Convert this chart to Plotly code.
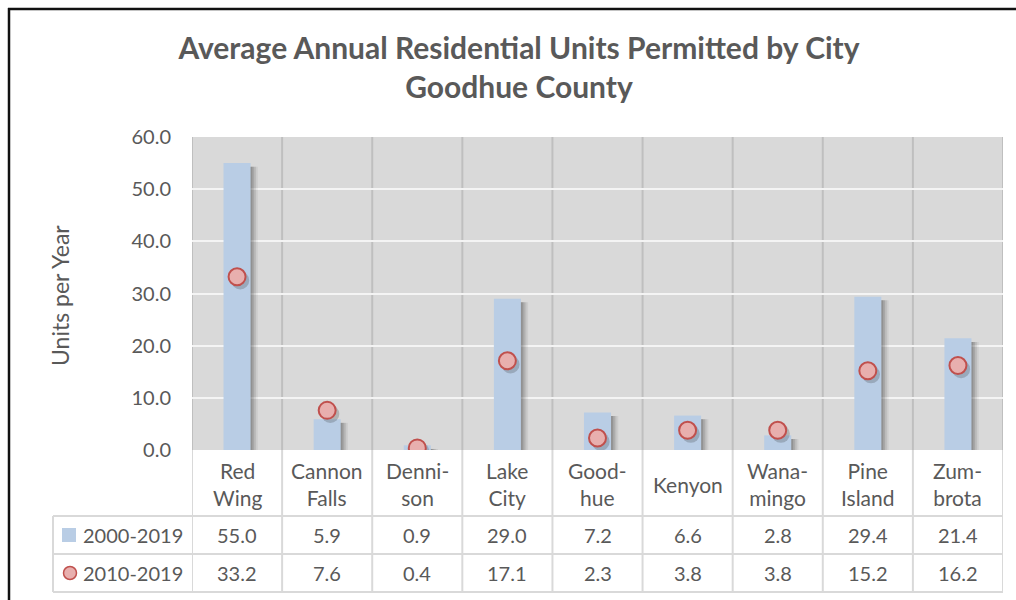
import plotly.graph_objects as go

# ---- data -------------------------------------------------------------
cities = ["Red<br>Wing", "Cannon<br>Falls", "Denni-<br>son", "Lake<br>City",
          "Good-<br>hue", "Kenyon", "Wana-<br>mingo", "Pine<br>Island", "Zum-<br>brota"]
series_names = ["2000-2019", "2010-2019"]
units_2000_2019 = [55.0, 5.9, 0.9, 29.0, 7.2, 6.6, 2.8, 29.4, 21.4]
units_2010_2019 = [33.2, 7.6, 0.4, 17.1, 2.3, 3.8, 3.8, 15.2, 16.2]
y_ticks = [0, 10, 20, 30, 40, 50, 60]

# ---- styling ----------------------------------------------------------
FONT = "Lato"
TEXT = "#595959"
BAR = "#B9CDE5"
DOT_FILL = "#E8AFAE"
DOT_LINE = "#C0504D"
PLOT_BG = "#D9D9D9"
SEP = "#BFBFBF"
TABLE_LINE = "#D9D9D9"

W, H = 1016, 600
L, R, T, B = 192, 13, 137, 150
PW, PH = W - L - R, H - T - B


def px_x(px):
    return (px - L) / PW


def px_y(py):
    return (H - B - py) / PH


n = len(cities)
xs = list(range(n))

fig = go.Figure()

# soft drop shadow behind each column
for shift, alpha in [(0.08, 0.07), (0.06, 0.10), (0.04, 0.14), (0.02, 0.16)]:
    fig.add_trace(go.Bar(
        x=xs, y=units_2000_2019, base=-0.7, width=0.3, offset=-0.15 + shift,
        marker=dict(color=f"rgba(40,40,40,{alpha})", line=dict(width=0)),
        hoverinfo="skip", showlegend=False))

fig.add_trace(go.Bar(
    x=xs, y=units_2000_2019, width=0.3, name=series_names[0],
    marker=dict(color=BAR, line=dict(width=0)), showlegend=False))

# marker shadow
fig.add_trace(go.Scatter(
    x=[x + 0.035 for x in xs], y=[v - 0.7 for v in units_2010_2019], mode="markers",
    marker=dict(size=18, color="rgba(40,40,40,0.22)", line=dict(width=0)),
    hoverinfo="skip", showlegend=False))

fig.add_trace(go.Scatter(
    x=xs, y=units_2010_2019, mode="markers", name=series_names[1],
    marker=dict(size=17, color=DOT_FILL, line=dict(color=DOT_LINE, width=2)),
    showlegend=False))

shapes = []
annotations = []

# category separators in the plot and through the data table
for k in range(n + 1):
    shapes.append(dict(type="line", xref="x", yref="paper", x0=k - 0.5, x1=k - 0.5,
                       y0=0, y1=1, line=dict(color=SEP, width=2), layer="between"))
    shapes.append(dict(type="line", xref="x", yref="paper", x0=k - 0.5, x1=k - 0.5,
                       y0=px_y(592), y1=0, line=dict(color=TABLE_LINE, width=2),
                       layer="above"))

# table row lines and legend column border
for py in [516, 554, 592]:
    shapes.append(dict(type="line", xref="paper", yref="paper", x0=px_x(53), x1=1,
                       y0=px_y(py), y1=px_y(py), line=dict(color=TABLE_LINE, width=2)))
shapes.append(dict(type="line", xref="paper", yref="paper", x0=px_x(53), x1=px_x(53),
                   y0=px_y(516), y1=px_y(592), line=dict(color=TABLE_LINE, width=2)))

# category labels
for i, c in enumerate(cities):
    annotations.append(dict(x=i, y=px_y(484), xref="x", yref="paper", text=c,
                            showarrow=False, xanchor="center", yanchor="middle",
                            font=dict(family=FONT, size=21, color=TEXT)))

# table values
for row_y, vals in [(535, units_2000_2019), (573, units_2010_2019)]:
    for i, v in enumerate(vals):
        annotations.append(dict(x=i, y=px_y(row_y), xref="x", yref="paper",
                                text=f"{v:.1f}", showarrow=False,
                                xanchor="center", yanchor="middle",
                                font=dict(family=FONT, size=20, color=TEXT)))

# legend keys in the table
shapes.append(dict(type="rect", xref="paper", yref="paper",
                   x0=px_x(62), x1=px_x(76), y0=px_y(542), y1=px_y(528),
                   fillcolor=BAR, line=dict(width=0)))
shapes.append(dict(type="circle", xref="paper", yref="paper",
                   x0=px_x(63.5), x1=px_x(76.5), y0=px_y(579.5), y1=px_y(566.5),
                   fillcolor=DOT_FILL, line=dict(color=DOT_LINE, width=1.5)))
for row_y, name in [(535, series_names[0]), (573, series_names[1])]:
    annotations.append(dict(x=px_x(81), y=px_y(row_y), xref="paper", yref="paper",
                            text=name, showarrow=False, xanchor="left", yanchor="middle",
                            font=dict(family=FONT, size=20, color=TEXT)))

# y-axis title
annotations.append(dict(x=px_x(60), y=px_y(296), xref="paper", yref="paper",
                        text="Units per Year", textangle=-90, showarrow=False,
                        xanchor="center", yanchor="middle",
                        font=dict(family=FONT, size=23, color=TEXT)))

# outer chart frame (top and left edges)
shapes.append(dict(type="line", xref="paper", yref="paper", x0=px_x(8), x1=px_x(1020),
                   y0=px_y(9), y1=px_y(9), line=dict(color="#111111", width=2.5)))
shapes.append(dict(type="line", xref="paper", yref="paper", x0=px_x(9), x1=px_x(9),
                   y0=px_y(8), y1=px_y(610), line=dict(color="#111111", width=2.5)))

fig.update_layout(
    width=W, height=H,
    margin=dict(l=L, r=R, t=T, b=B),
    paper_bgcolor="white",
    plot_bgcolor=PLOT_BG,
    barmode="overlay",
    title=dict(text="<b>Average Annual Residential Units Permitted by City<br>Goodhue County</b>",
               x=519 / W, xanchor="center", y=1 - 59 / H, yanchor="middle",
               font=dict(family=FONT, size=30, color=TEXT)),
    xaxis=dict(range=[-0.5, n - 0.5], showticklabels=False, showgrid=False,
               zeroline=False, fixedrange=True),
    yaxis=dict(range=[0, 60], tickvals=y_ticks, ticktext=[f"{t:.1f}" for t in y_ticks],
               showgrid=True, gridcolor="#F4F4F4", gridwidth=2, zeroline=False,
               ticks="", ticklabelstandoff=20,
               tickfont=dict(family=FONT, size=20, color=TEXT)),
    shapes=shapes,
    annotations=annotations,
    showlegend=False,
)

fig.write_html("out.html")
